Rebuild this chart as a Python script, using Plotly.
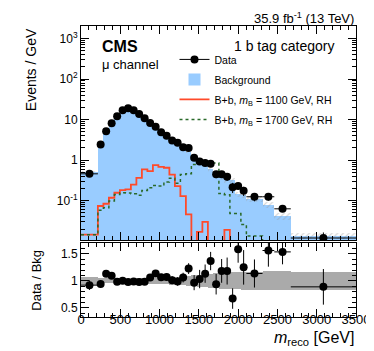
import numpy as np
import plotly.graph_objects as go

# bin edges of m_reco [GeV]
bin_edges = [0, 215, 285, 355, 425, 495, 565, 635, 705, 775, 845, 915, 985, 1055, 1125,
             1195, 1265, 1335, 1405, 1475, 1545, 1615, 1685, 1755, 1825, 1895, 1965, 2035,
             2105, 2310, 2460, 2670, 3500]

# events / GeV
data_vals = [0.46, 2.45, 5.2, 8.1, 12.1, 17, 19.1, 17, 13.8, 10.8, 8.3, 6.7, 4.9, 4.0, 3.04,
             2.67, 2.09, 2.0, 1.15, 0.93, 0.85, 0.82, 0.45, 0.45, 0.39, 0.215, 0.23, 0.175,
             0.125, 0.125, 0.063, 0.012]
bkg_vals = [0.5, 2.6, 4.6, 7.4, 12.3, 17, 19.5, 17.2, 14.1, 11, 7.8, 5.9, 4.6, 3.74, 3.0,
            2.7, 1.97, 1.63, 1.19, 0.9, 0.75, 0.6, 0.48, 0.38, 0.33, 0.32, 0.145, 0.14,
            0.11, 0.08, 0.041, 0.0135]
# relative uncertainties
ratio_err = [0.09, 0.07, 0.06, 0.05, 0.04, 0.035, 0.035, 0.035, 0.04, 0.045, 0.05, 0.06,
             0.065, 0.07, 0.075, 0.08, 0.09, 0.1, 0.14, 0.17, 0.17, 0.17, 0.19, 0.22, 0.25,
             0.19, 0.25, 0.32, 0.26, 0.3, 0.23, 0.33]
bkg_unc = [0.075, 0.06, 0.05, 0.045, 0.04, 0.04, 0.04, 0.04, 0.045, 0.05, 0.055, 0.06, 0.06,
           0.065, 0.07, 0.075, 0.08, 0.09, 0.1, 0.11, 0.12, 0.13, 0.14, 0.15, 0.15, 0.16,
           0.16, 0.17, 0.17, 0.18, 0.18, 0.17]
# signals
sig_1100 = [0.0145, 0.074, 0.084, 0.118, 0.157, 0.183, 0.19, 0.25, 0.366, 0.59, 0.535, 0.75,
            0.68, 0.65, 0.44, 0.23, 0.13, 0.046, 0, 0.017, 0.03, 0, 0, 0, 0.019, 0, 0, 0,
            0, 0, 0, 0]
sig_1700 = [0.0145, 0.058, 0.067, 0.098, 0.142, 0.157, 0.155, 0.148, 0.137, 0.178, 0.208,
            0.237, 0.23, 0.29, 0.36, 0.27, 0.44, 0.46, 0.78, 0.92, 0.92, 0.9, 0.85, 0.15,
            0.14, 0.048, 0.048, 0.026, 0.0134, 0, 0, 0]

edges = np.array(bin_edges, dtype=float)
centers = (edges[:-1] + edges[1:]) / 2
widths = np.diff(edges)
data = np.array(data_vals)
bkg = np.array(bkg_vals)
ratio = data / bkg
rerr = np.array(ratio_err)
unc = np.array(bkg_unc)

FONT = "Liberation Sans, Arial, sans-serif"
BLUE = "#99CCFF"
RED = "#FF4A2A"
GREEN = "#2A6A2A"


def step(vals):
    v = np.array(vals, dtype=float)
    v = np.where(v > 0, v, 1e-4)
    return list(edges), list(v) + [v[-1]]


fig = go.Figure()

fig.add_trace(go.Bar(x=centers, y=bkg, width=widths, marker=dict(color=BLUE, line_width=0),
                     name="Background", xaxis="x2", yaxis="y2", legendrank=2, legendgroup="b"))
fig.add_trace(go.Bar(x=centers, y=2 * unc * bkg, base=bkg * (1 - unc), width=widths,
                     marker=dict(color="rgba(0,0,0,0)", line_width=0,
                                 pattern=dict(shape="/", fgcolor="#9a9a9a", size=4,
                                              solidity=0.25, fillmode="overlay")),
                     showlegend=False, xaxis="x2", yaxis="y2"))

sx, sy = step(sig_1100)
fig.add_trace(go.Scatter(x=sx, y=sy, mode="lines", line=dict(color=RED, width=1.8, shape="hv"),
                         name="B+b, <i>m</i><sub>B</sub> = 1100 GeV, RH",
                         xaxis="x2", yaxis="y2", legendrank=3, legendgroup="s1"))
sx, sy = step(sig_1700)
fig.add_trace(go.Scatter(x=sx, y=sy, mode="lines",
                         line=dict(color=GREEN, width=1.5, shape="hv", dash="dot"),
                         name="B+b, <i>m</i><sub>B</sub> = 1700 GeV, RH",
                         xaxis="x2", yaxis="y2", legendrank=4, legendgroup="s2"))

fig.add_trace(go.Scatter(x=centers, y=data, mode="markers",
                         marker=dict(color="black", size=8),
                         error_y=dict(type="data", array=rerr * bkg, color="black", thickness=1, width=0),
                         error_x=dict(type="data", array=widths / 2, color="black", thickness=1, width=0),
                         showlegend=False, xaxis="x2", yaxis="y2"))
# legend entry for data (marker with line)
fig.add_trace(go.Scatter(x=[None], y=[None], mode="lines+markers", name="Data",
                         marker=dict(color="black", size=8), line=dict(color="black", width=1),
                         xaxis="x2", yaxis="y2", legendrank=1, legendgroup="d"))

# ratio panel
fig.add_trace(go.Bar(x=centers, y=2 * unc, base=1 - unc, width=widths,
                     marker=dict(color="#AAAAAA", line_width=0), showlegend=False,
                     xaxis="x", yaxis="y"))
fig.add_trace(go.Scatter(x=centers, y=ratio, mode="markers",
                         marker=dict(color="black", size=8),
                         error_y=dict(type="data", array=rerr, color="black", thickness=1, width=0),
                         error_x=dict(type="data", array=widths / 2, color="black", thickness=1, width=0),
                         showlegend=False, xaxis="x", yaxis="y"))

axis_common = dict(ticks="inside", mirror="allticks", showline=True, linecolor="black",
                   linewidth=1, tickcolor="black", showgrid=False, zeroline=False)

minor_log = [m * 10.0 ** k for k in range(-2, 4) for m in range(2, 10)]

fig.update_layout(
    width=374, height=351,
    margin=dict(l=73, r=22, t=18, b=42),
    paper_bgcolor="white", plot_bgcolor="white",
    barmode="overlay", bargap=0,
    font=dict(family=FONT, size=12, color="black"),
    xaxis=dict(domain=[0, 1], range=[0, 3500], anchor="y", dtick=500, tick0=0, ticklen=8,
               tickfont=dict(size=13), ticklabelstandoff=-10,
               minor=dict(dtick=100, ticks="inside", ticklen=4, tickcolor="black"),
               **axis_common),
    xaxis2=dict(domain=[0, 1], range=[0, 3500], anchor="y2", matches="x", dtick=500, tick0=0,
                ticklen=8, showticklabels=False,
                minor=dict(dtick=100, ticks="inside", ticklen=4, tickcolor="black"),
                **axis_common),
    yaxis=dict(domain=[0, 0.254], range=[0.33, 1.70], anchor="x", tickmode="array",
               tickvals=[0.5, 1, 1.5], ticktext=["0.5", "1", "1.5"], ticklen=8,
               tickfont=dict(size=12),
               minor=dict(dtick=0.1, ticks="inside", ticklen=4, tickcolor="black"),
               **axis_common),
    yaxis2=dict(domain=[0.2646, 1], type="log", range=[-1.97, 3.31], anchor="x2",
                tickmode="array", tickvals=[0.1, 1, 10, 100, 1000],
                ticktext=["10<sup>-1</sup>", "1", "10", "10<sup>2</sup>", "10<sup>3</sup>"],
                ticklen=8, tickfont=dict(size=12),
                minor=dict(tickmode="array", tickvals=minor_log, ticks="inside", ticklen=4,
                           tickcolor="black"),
                **axis_common),
    legend=dict(x=0.34, y=0.935, xanchor="left", yanchor="top", bgcolor="rgba(0,0,0,0)",
                font=dict(size=10.5), itemwidth=30, traceorder="grouped", tracegroupgap=1),
)

ann = [
    dict(text="<b>CMS</b>", x=0.068, y=0.931, size=16, xanchor="left"),
    dict(text="\u03bc channel", x=0.068, y=0.866, size=13, xanchor="left"),
    dict(text="1 b tag category", x=0.928, y=0.931, size=14, xanchor="right"),
    dict(text="35.9 fb<sup>-1</sup> (13 TeV)", x=1.0, y=1.026, size=13, xanchor="right"),
    dict(text="<i>m</i><sub>reco</sub> [GeV]", x=1.0, y=-0.074, size=16, xanchor="right"),
]
for a in ann:
    fig.add_annotation(text=a["text"], x=a["x"], y=a["y"], xref="paper", yref="paper",
                       xanchor=a["xanchor"], yanchor="middle", showarrow=False,
                       font=dict(size=a["size"], family=FONT, color="black"))

fig.add_annotation(text="Events / GeV", x=-0.183, y=1.0, xref="paper", yref="paper",
                   textangle=-90, xanchor="center", yanchor="top", showarrow=False,
                   font=dict(size=14, family=FONT))
fig.add_annotation(text="Data / Bkg", x=-0.165, y=0.127, xref="paper", yref="paper",
                   textangle=-90, xanchor="center", yanchor="middle", showarrow=False,
                   font=dict(size=13, family=FONT))

fig.write_html("out.html")
